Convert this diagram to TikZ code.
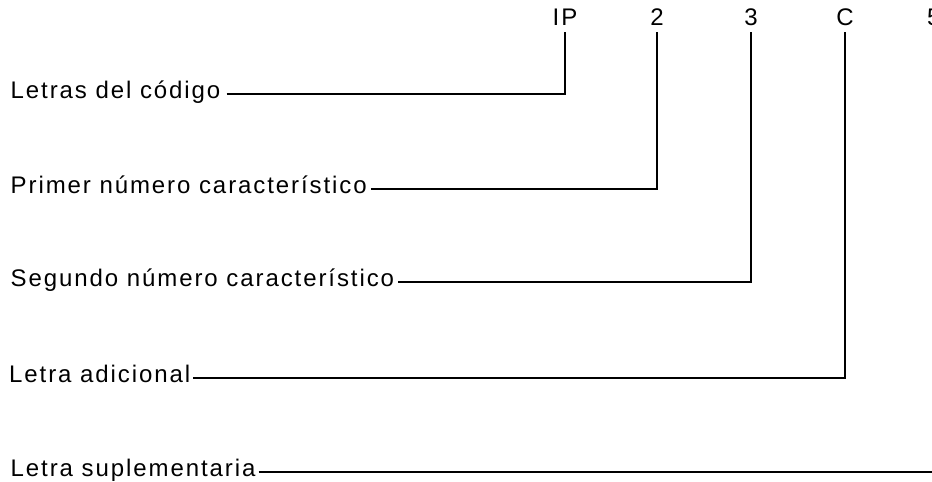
\documentclass[tikz,border=0pt]{standalone}
\usepackage{fontspec}
\setmainfont{Liberation Sans}[LetterSpace=8]
\begin{document}
\begin{tikzpicture}[x=1pt,y=-1pt,
  lbl/.style={anchor=base west,inner sep=0pt,font=\fontsize{24}{28}\selectfont},
  hdr/.style={anchor=base,inner sep=0pt,font=\fontsize{24}{28}\selectfont},
  conn/.style={line width=2.3pt,line join=miter}]
\useasboundingbox (0,0) rectangle (932,482);
% header codes
\node[hdr] (ip) at (565,25) {IP};
\node[hdr] (n2) at (657,25) {2};
\node[hdr] (n3) at (751,25) {3};
\node[hdr] (c) at (845,25) {C};
\node[anchor=base west,inner sep=0pt,font=\fontsize{24}{28}\selectfont] (n5) at (927,25) {5};
% labels
\node[lbl] (l1) at (10.5,98) {Letras del código};
\node[lbl] (l2) at (10.5,193) {Primer número característico};
\node[lbl] (l3) at (10.5,286) {Segundo número característico};
\node[lbl] (l4) at (9,382) {Letra adicional};
\node[lbl] (l5) at (10.5,476) {Letra suplementaria};
\coordinate (e5) at (945,472);
% connectors
\draw[conn] ([xshift=6pt,yshift=4pt]l1.base east) -| ([yshift=-7pt]ip.base);
\draw[conn] ([xshift=4pt,yshift=4pt]l2.base east) -| ([yshift=-7pt]n2.base);
\draw[conn] ([xshift=4pt,yshift=4pt]l3.base east) -| ([yshift=-7pt]n3.base);
\draw[conn] ([xshift=3pt,yshift=4pt]l4.base east) -| ([yshift=-7pt]c.base);
\draw[conn] ([xshift=3pt,yshift=4pt]l5.base east) -- (e5);
\end{tikzpicture}
\end{document}
